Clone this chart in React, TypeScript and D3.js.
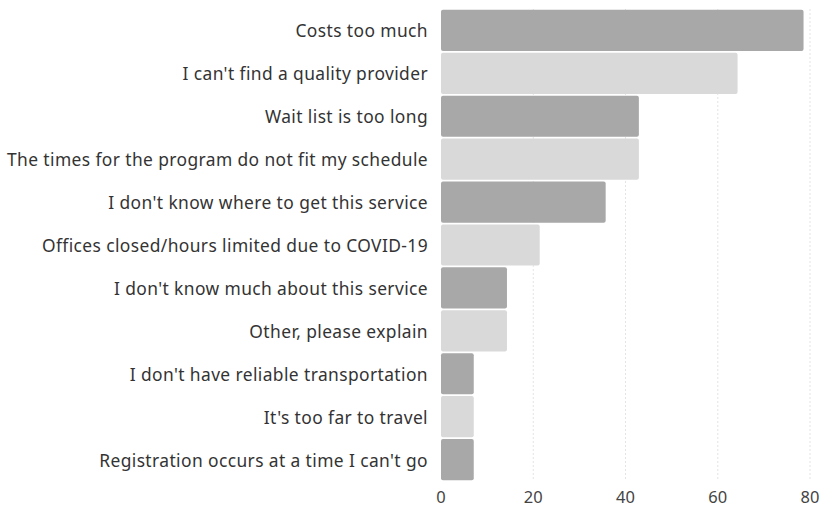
import React from "react";
import * as d3 from "d3";

const categories = [
  "Costs too much",
  "I can't find a quality provider",
  "Wait list is too long",
  "The times for the program do not fit my schedule",
  "I don't know where to get this service",
  "Offices closed/hours limited due to COVID-19",
  "I don't know much about this service",
  "Other, please explain",
  "I don't have reliable transportation",
  "It's too far to travel",
  "Registration occurs at a time I can't go",
];
const values = [78.6, 64.3, 42.9, 42.9, 35.7, 21.4, 14.3, 14.3, 7.1, 7.1, 7.1];
const ticks = [0, 20, 40, 60, 80];

const W = 834;
const H = 508;
const x0 = 441;
const x1 = 810;
const yTop = 9;
const yBot = 481;

export default function App() {
  const x = d3.scaleLinear().domain([0, 80]).range([x0, x1]);
  const y = d3.scaleBand<string>().domain(categories).range([yTop, yBot]).paddingInner(0.04).paddingOuter(0.02);
  const font = "'Noto Sans', 'Open Sans', sans-serif";
  return (
    <svg width={W} height={H} style={{ position: "absolute", left: 0, top: 0, background: "#fff" }}>
      {ticks.slice(1).map((t) => (
        <line key={t} x1={x(t)} x2={x(t)} y1={yTop} y2={yBot} stroke="#e4e4e4" strokeWidth={1} strokeDasharray="2,2" />
      ))}
      {categories.map((c, i) => (
        <g key={c}>
          <rect
            x={x(0)}
            y={y(c)}
            width={x(values[i]) - x(0)}
            height={y.bandwidth()}
            rx={2}
            fill={i % 2 === 0 ? "#a8a8a8" : "#d9d9d9"}
          />
          <text
            x={428}
            y={(y(c) as number) + y.bandwidth() / 2}
            textAnchor="end"
            dominantBaseline="central"
            fontFamily={font}
            fontSize={17.4}
            letterSpacing={0.4}
            fill="#333"
          >
            {c}
          </text>
        </g>
      ))}
      {ticks.map((t) => (
        <text key={t} x={x(t)} y={503} textAnchor="middle" fontFamily={font} fontSize={16.5} fill="#444">
          {t}
        </text>
      ))}
    </svg>
  );
}
